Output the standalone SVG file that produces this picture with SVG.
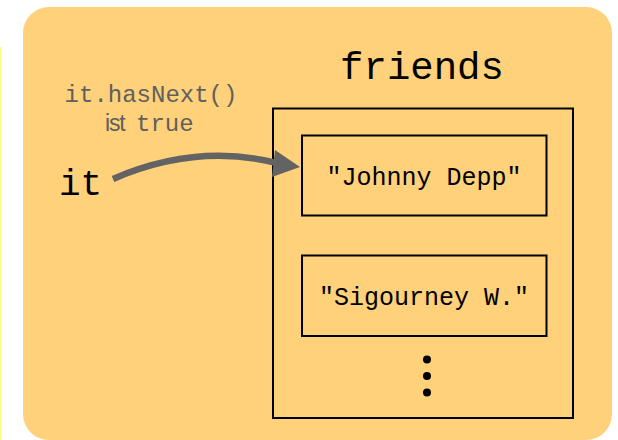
<svg xmlns="http://www.w3.org/2000/svg" width="618" height="440" viewBox="0 0 618 440">
<style>
.mono{font-family:"Liberation Mono","Courier New",monospace;}
.sans{font-family:"Liberation Sans",Arial,sans-serif;}
.box{fill:none;stroke:#000;stroke-width:2;}
.gray{fill:#606060;}
</style>
<rect x="0" y="47" width="2" height="393" fill="#FFFF88"/>
<rect x="23" y="7" width="589" height="433" rx="26" ry="26" fill="#FED17A"/>
<g id="label-hasnext">
<text class="mono gray" x="151" y="102" font-size="24" text-anchor="middle">it.hasNext()</text>
<text y="131" font-size="23"><tspan class="sans gray" x="105" letter-spacing="-1.2">ist</tspan><tspan class="mono gray" x="136" font-size="24">true</tspan></text>
</g>
<g id="it">
<text class="mono" x="59" y="195" font-size="36" fill="#000">it</text>
</g>
<g id="friends">
<text class="mono" x="422" y="79" font-size="39" text-anchor="middle" fill="#000">friends</text>
<rect class="box" x="273" y="108.5" width="300" height="309.5"/>
<g id="dots" fill="#000">
<circle cx="427" cy="359.5" r="4"/>
<circle cx="427" cy="376" r="4"/>
<circle cx="427" cy="392.5" r="4"/>
</g>
</g>
<g id="johnny">
<rect class="box" x="302" y="135.5" width="244.5" height="80"/>
<text class="mono" x="424" y="185" font-size="25" text-anchor="middle" fill="#000">"Johnny Depp"</text>
</g>
<g id="sigourney">
<rect class="box" x="302" y="255.5" width="244.5" height="80.5"/>
<text class="mono" x="424" y="305" font-size="25" text-anchor="middle" fill="#000">"Sigourney W."</text>
</g>
<g id="connectors">
<path d="M113,179 Q196,143 277,163" fill="none" stroke="#636363" stroke-width="6.5"/>
<polygon points="275,150 300,167 272,177" fill="#636363"/>
</g>
</svg>
